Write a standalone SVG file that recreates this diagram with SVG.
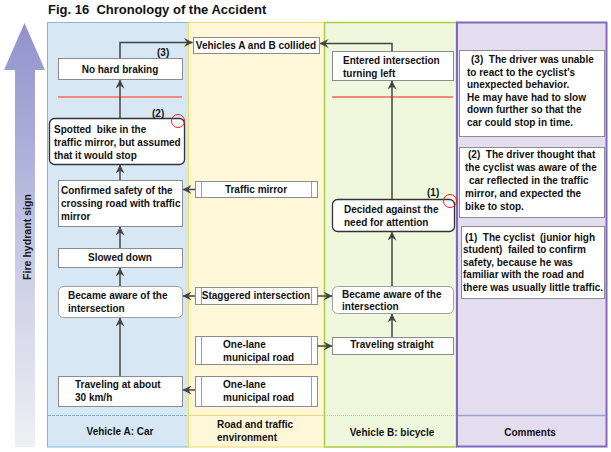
<svg xmlns="http://www.w3.org/2000/svg" width="611" height="452" viewBox="0 0 611 452">
<defs>
  <linearGradient id="fh" x1="0" y1="23" x2="0" y2="447" gradientUnits="userSpaceOnUse">
    <stop offset="0" stop-color="#9292cc"/>
    <stop offset="0.3" stop-color="#acb0da"/>
    <stop offset="0.65" stop-color="#d2d4e8"/>
    <stop offset="1" stop-color="#efeff5"/>
  </linearGradient>
  <marker id="ah" viewBox="0 0 10 10" refX="9.5" refY="5" markerWidth="9" markerHeight="9" markerUnits="userSpaceOnUse" orient="auto">
    <path d="M0,0 L10,5 L0,10 L3.5,5 Z" fill="#444"/>
  </marker>
</defs>
<style>
  text { font-family: "Liberation Sans", Arial, sans-serif; font-weight: bold; font-size: 10px; fill: #111; }
  .c { text-anchor: middle; }
  .title { font-size: 13px; fill: #111; }
  .box { fill: #fff; stroke: #8c8c8c; stroke-width: 1; }
  .rbox { fill: #fff; stroke: #333; stroke-width: 1.3; }
  .lbox { fill: #fff; stroke: #a0a0a0; stroke-width: 1; }
  .dl { stroke: #a0a0a0; stroke-width: 1; }
  .conn line, .conn path { stroke: #444; stroke-width: 1.5; fill: none; marker-end: url(#ah); }
  .red { stroke: #f08a7a; stroke-width: 2; }
  .circ { fill: none; stroke: #e51e1e; stroke-width: 1; }
</style>

<rect x="0" y="0" width="611" height="452" fill="#fff"/>

<text class="title" x="48" y="14" xml:space="preserve">Fig. 16  Chronology of the Accident</text>

<g id="fire-hydrant-arrow">
  <path d="M24.5,23 L45,70 L35,70 L35,447 L15,447 L15,70 L4,70 Z" fill="url(#fh)"/>
  <text class="c" transform="translate(31,237) rotate(-90)" font-size="12" fill="#1a1a1a" style="fill:#1a1a1a" textLength="86" lengthAdjust="spacingAndGlyphs">Fire hydrant sign</text>
</g>

<g id="lanes">
  <rect x="47.5" y="22.5" width="141" height="424.5" fill="#d7e7f3" stroke="#80b8da"/>
  <rect x="188.5" y="22.5" width="136" height="424.5" fill="#fff7d8" stroke="#f0da66"/>
  <rect x="324.5" y="22.5" width="132" height="424.5" fill="#eff7dd" stroke="#a8d046" stroke-width="1.5"/>
  <rect x="457" y="22.5" width="149.5" height="424" fill="#e3ddef" stroke="#8068c0" stroke-width="2"/>
  <line x1="48" y1="415.5" x2="188" y2="415.5" stroke="#80b0d4" stroke-dasharray="3,1"/>
  <line x1="189" y1="415.5" x2="324" y2="415.5" stroke="#f0da66"/>
  <line x1="325" y1="415.5" x2="456" y2="415.5" stroke="#c8d870" stroke-dasharray="1,1"/>
  <line x1="458" y1="415.5" x2="605.5" y2="415.5" stroke="#98a4d4" stroke-width="1.5"/>
  <text class="c" x="120" y="435">Vehicle A: Car</text>
  <text x="217" y="428">Road and traffic</text>
  <text x="217" y="441">environment</text>
  <text class="c" x="392" y="436">Vehicle B: bicycle</text>
  <text class="c" x="530" y="436">Comments</text>
</g>

<g id="a-no-hard-braking">
  <rect class="box" x="58.5" y="58.5" width="124" height="21"/>
  <text class="c" x="120" y="73">No hard braking</text>
</g>
<g id="a-spotted">
  <rect class="rbox" x="49.5" y="118.5" width="135" height="46" rx="5"/>
  <text x="54" y="133" xml:space="preserve">Spotted  bike in the</text>
  <text x="54" y="146">traffic mirror, but assumed</text>
  <text x="54" y="159">that it would stop</text>
</g>
<g id="a-confirmed">
  <rect class="box" x="58.5" y="180.5" width="124" height="46"/>
  <text x="61" y="194">Confirmed safety of the</text>
  <text x="61" y="207">crossing road with traffic</text>
  <text x="61" y="220">mirror</text>
</g>
<g id="a-slowed">
  <rect class="box" x="58.5" y="248.5" width="124" height="19"/>
  <text class="c" x="120" y="261">Slowed down</text>
</g>
<g id="a-aware">
  <rect class="lbox" x="58.5" y="286.5" width="124" height="31" rx="5"/>
  <text x="68" y="299">Became aware of the</text>
  <text x="68" y="312">intersection</text>
</g>
<g id="a-traveling">
  <rect class="box" x="58.5" y="376.5" width="124" height="30"/>
  <text x="75" y="388">Traveling at about</text>
  <text x="75" y="401">30 km/h</text>
</g>

<g id="collided">
  <rect class="box" x="193.5" y="37.5" width="126" height="16"/>
  <text class="c" x="256" y="49">Vehicles A and B collided</text>
</g>
<g id="r-traffic-mirror">
  <rect class="box" x="195.5" y="181.5" width="122" height="16"/>
  <line class="dl" x1="201.5" y1="182" x2="201.5" y2="197"/>
  <line class="dl" x1="311.5" y1="182" x2="311.5" y2="197"/>
  <text class="c" x="256" y="193">Traffic mirror</text>
</g>
<g id="r-staggered">
  <rect class="box" x="195.5" y="287.5" width="122" height="17"/>
  <line class="dl" x1="201.5" y1="288" x2="201.5" y2="304"/>
  <line class="dl" x1="311.5" y1="288" x2="311.5" y2="304"/>
  <text class="c" x="256" y="299">Staggered intersection</text>
</g>
<g id="r-one-lane-1">
  <rect class="box" x="195.5" y="336.5" width="122" height="28"/>
  <line class="dl" x1="201.5" y1="337" x2="201.5" y2="364"/>
  <line class="dl" x1="311.5" y1="337" x2="311.5" y2="364"/>
  <text x="223" y="348">One-lane</text>
  <text x="223" y="361">municipal road</text>
</g>
<g id="r-one-lane-2">
  <rect class="box" x="195.5" y="376.5" width="122" height="30"/>
  <line class="dl" x1="201.5" y1="377" x2="201.5" y2="406"/>
  <line class="dl" x1="311.5" y1="377" x2="311.5" y2="406"/>
  <text x="223" y="388">One-lane</text>
  <text x="223" y="401">municipal road</text>
</g>

<g id="b-entered">
  <rect class="box" x="332.5" y="51.5" width="121" height="29"/>
  <text x="343" y="64">Entered intersection</text>
  <text x="343" y="77">turning left</text>
</g>
<g id="b-decided">
  <rect class="rbox" x="332.5" y="199.5" width="122" height="32" rx="5"/>
  <text x="344" y="213">Decided against the</text>
  <text x="344" y="226">need for attention</text>
</g>
<g id="b-aware">
  <rect class="lbox" x="332.5" y="286.5" width="121" height="27" rx="5"/>
  <text x="342" y="298">Became aware of the</text>
  <text x="342" y="310">intersection</text>
</g>
<g id="b-straight">
  <rect class="box" x="332.5" y="337.5" width="121" height="17"/>
  <text class="c" x="392" y="348">Traveling straight</text>
</g>

<g id="comment-3">
  <rect class="box" x="459.5" y="50.5" width="145" height="86"/>
  <text x="471" y="63" xml:space="preserve">(3)  The driver was unable</text>
  <text x="467" y="76">to react to the cyclist’s</text>
  <text x="467" y="88">unexpected behavior.</text>
  <text x="467" y="101">He may have had to slow</text>
  <text x="467" y="113">down further so that the</text>
  <text x="467" y="126">car could stop in time.</text>
</g>
<g id="comment-2">
  <rect class="box" x="459.5" y="147.5" width="145" height="70"/>
  <text x="468" y="158" xml:space="preserve">(2)  The driver thought that</text>
  <text x="465" y="171">the cyclist was aware of the</text>
  <text x="469" y="184">car reflected in the traffic</text>
  <text x="465" y="197">mirror, and expected the</text>
  <text x="465" y="210">bike to stop.</text>
</g>
<g id="comment-1">
  <rect class="box" x="461.5" y="226.5" width="143" height="72"/>
  <text x="465" y="241" xml:space="preserve">(1)  The cyclist  (junior high</text>
  <text x="463" y="253" xml:space="preserve">student)  failed to confirm</text>
  <text x="463" y="266">safety, because he was</text>
  <text x="463" y="278">familiar with the road and</text>
  <text x="463" y="291">there was usually little traffic.</text>
</g>

<g id="markers">
  <line class="red" x1="58" y1="97" x2="182" y2="97"/>
  <line class="red" x1="332" y1="97" x2="453" y2="97"/>
  <circle class="circ" cx="178" cy="121" r="6.5"/>
  <circle class="circ" cx="450" cy="201" r="6.5"/>
  <text x="157" y="56">(3)</text>
  <text x="152" y="117">(2)</text>
  <text x="427" y="196">(1)</text>
</g>

<g id="connectors" class="conn">
  <line x1="120" y1="376" x2="120" y2="318"/>
  <line x1="120" y1="286" x2="120" y2="268"/>
  <line x1="120" y1="248" x2="120" y2="227"/>
  <line x1="120" y1="180" x2="120" y2="165"/>
  <line x1="120" y1="118" x2="120" y2="80"/>
  <path d="M120,58 V42.5 H192.5"/>
  <path d="M392,51 V43.5 H320"/>
  <line x1="392" y1="199" x2="392" y2="81"/>
  <line x1="392" y1="286" x2="392" y2="232"/>
  <line x1="392" y1="337" x2="392" y2="314"/>
  <line x1="195" y1="189.5" x2="183" y2="189.5"/>
  <line x1="195" y1="296" x2="183" y2="296"/>
  <line x1="317.5" y1="296" x2="332" y2="296"/>
  <line x1="317.5" y1="346" x2="332" y2="346"/>
  <line x1="195" y1="390" x2="183" y2="390"/>
</g>
</svg>
